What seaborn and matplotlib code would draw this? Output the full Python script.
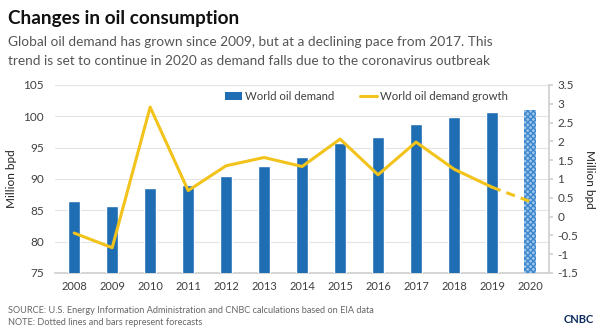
import matplotlib
matplotlib.use("Agg")
import matplotlib.pyplot as plt
import seaborn as sns
import pandas as pd
import numpy as np
from matplotlib.patches import Patch
from matplotlib.lines import Line2D

years = ["2008", "2009", "2010", "2011", "2012", "2013", "2014",
         "2015", "2016", "2017", "2018", "2019", "2020"]
demand = [86.4, 85.6, 88.5, 89.1, 90.5, 92.1, 93.5, 95.7, 96.7, 98.7, 99.9, 100.7, 101.0]
growth = [-0.44, -0.83, 2.91, 0.69, 1.35, 1.57, 1.33, 2.06, 1.11, 1.98, 1.26, 0.78, 0.40]
left_ticks = [75, 80, 85, 90, 95, 100, 105]
right_ticks = [-1.5, -1, -0.5, 0, 0.5, 1, 1.5, 2, 2.5, 3, 3.5]

sns.set_theme(style="white")
plt.rcParams["font.family"] = ["Lato", "DejaVu Sans"]

BLUE = "#1F6DB3"
GOLD = "#F2C31B"
TXT = "#404040"

fig = plt.figure(figsize=(6.0, 3.28), dpi=100)
ax = fig.add_axes([0.092, 0.168, 0.823, 0.573])

df = pd.DataFrame({"year": years, "demand": demand})
sns.barplot(data=df, x="year", y="demand", color=BLUE, width=0.31,
            saturation=1, ax=ax, zorder=3)
# forecast bar styling
fc = ax.patches[-1]
fc.set_facecolor("#9CC6EC")
fc.set_edgecolor("#3F87CC")
fc.set_hatch("xxxxxx")
fc.set_linewidth(0)

ax.set_ylim(75, 105)
ax.set_yticks(left_ticks)
ax.set_xlim(-0.5, 12.5)
ax.yaxis.grid(True, color="#E3E3E3", linewidth=0.8, zorder=0)
ax.set_axisbelow(True)
ax.set_xlabel("")
ax.set_ylabel("Million bpd", fontsize=8.5, color="#222222", labelpad=5)
for s in ["top", "right", "left"]:
    ax.spines[s].set_visible(False)
ax.spines["bottom"].set_color("#D0D0D0")
ax.tick_params(axis="y", labelsize=8.5, colors=TXT, length=0, pad=8)
ax.tick_params(axis="x", labelsize=8, colors=TXT, length=0, pad=6)
# minor ticks between categories
ax.set_xticks(np.arange(-0.5, 12.6, 1), minor=True)
ax.tick_params(axis="x", which="minor", length=3, color="#D0D0D0", direction="out")

ax2 = ax.twinx()
x = np.arange(len(years))
gdf = pd.DataFrame({"x": x, "g": growth})
sns.lineplot(data=gdf.iloc[:12], x="x", y="g", color=GOLD, linewidth=2.2, ax=ax2)
sns.lineplot(data=gdf.iloc[11:], x="x", y="g", color=GOLD, linewidth=2.2,
             linestyle=(0, (3, 2)), ax=ax2)
ax2.set_ylim(-1.5, 3.5)
ax2.set_yticks(right_ticks)
ax2.set_yticklabels([("%g" % v) for v in right_ticks])
ax2.set_xlim(-0.5, 12.5)
ax2.set_xlabel("")
ax2.set_ylabel("Million bpd", fontsize=8.5, color="#222222", rotation=270, labelpad=12)
for s in ["top", "left", "bottom"]:
    ax2.spines[s].set_visible(False)
ax2.spines["right"].set_color("#D0D0D0")
ax2.tick_params(axis="y", labelsize=8.5, colors=TXT, length=3, color="#D0D0D0", pad=3)
ax2.grid(False)

handles = [Patch(facecolor=BLUE, edgecolor="none"),
           Line2D([0], [0], color=GOLD, linewidth=2.2)]
ax2.legend(handles, ["World oil demand", "World oil demand growth"], ncol=2,
           loc="upper center", bbox_to_anchor=(0.63, 1.025), frameon=False,
           fontsize=8.2, handlelength=1.5, columnspacing=2.2, handletextpad=0.3,
           labelcolor=TXT)

fig.text(0.013, 0.945, "Changes in oil consumption", fontsize=13.6, fontweight="bold",
         color="#111111", va="center")
fig.text(0.013, 0.873, "Global oil demand has grown since 2009, but at a declining pace from 2017. This",
         fontsize=9.8, color="#555555", va="center")
fig.text(0.013, 0.813, "trend is set to continue in 2020 as demand falls due to the coronavirus outbreak",
         fontsize=9.8, color="#555555", va="center")
fig.text(0.013, 0.052, "SOURCE: U.S. Energy Information Administration and CNBC calculations based on EIA data",
         fontsize=6.6, color="#666666", va="center")
fig.text(0.013, 0.018, "NOTE: Dotted lines and bars represent forecasts",
         fontsize=6.6, color="#666666", va="center")
fig.text(0.965, 0.025, "CNBC", fontsize=8, fontweight="bold", color="#0A2A5E",
         ha="center", va="center")

fig.savefig("out.png", dpi=100)
